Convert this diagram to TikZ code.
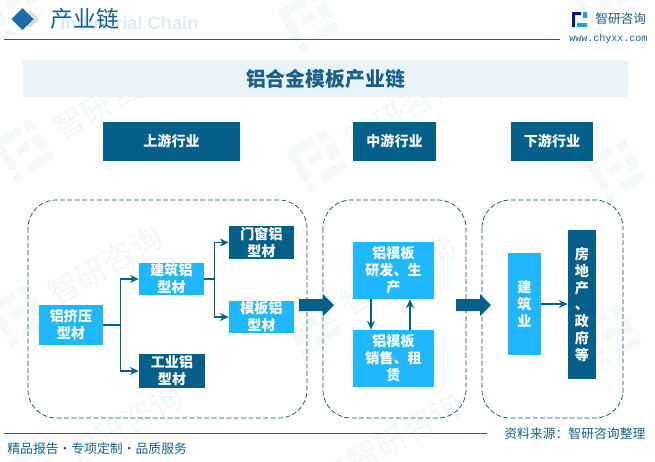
\documentclass[tikz,border=0pt]{standalone}
\usepackage{fontspec}
\setmainfont{Noto Sans CJK SC}
\setsansfont{Liberation Sans}
\setmonofont{Liberation Mono}
\usetikzlibrary{arrows.meta}
\definecolor{darkblue}{HTML}{04608A}
\definecolor{lightblue}{HTML}{1FB8FF}
\definecolor{bandblue}{HTML}{E8F3FA}
\definecolor{titleblue}{HTML}{1C5F88}
\definecolor{markblue}{HTML}{1A6EA8}
\tikzset{
    lightbox/.style={fill=lightblue,text=white,inner sep=0pt,align=center,font=\bfseries\fontsize{8}{9.6}\selectfont},
    darkbox/.style={fill=darkblue,text=white,inner sep=0pt,align=center,font=\bfseries\fontsize{8}{9.6}\selectfont},
    headbox/.style={fill=darkblue,text=white,inner sep=0pt,minimum height=0.78cm,font=\bfseries\fontsize{8}{10}\selectfont},
    groupbox/.style={draw=darkblue!80!black,dash pattern=on 2.8pt off 1.4pt,line width=0.4pt,rounded corners=0.56cm},
    link/.style={draw=darkblue,line width=0.6pt,-{Stealth[length=5pt,width=4.5pt]}},
    plainlink/.style={draw=darkblue,line width=0.6pt},
    wmtext/.style={text=titleblue,opacity=0.05,rotate=30,font=\fontsize{18}{18}\selectfont},
    wmshape/.style={fill=titleblue,opacity=0.04},
    greytext/.style={text=titleblue,font=\fontsize{7.3}{9}\selectfont}
}
\begin{document}
\begin{tikzpicture}[x=0.02cm,y=-0.02cm]
    \useasboundingbox (0,0) rectangle (655,461);

    % watermarks
    \foreach \wx/\wy [count=\wi] in {110/100,403/110,105/265,398/275,125/425,405/433}
        \node[wmtext] (wm\wi) at (\wx,\wy) {智研咨询};
    \foreach \lx/\ly in {15/5,310/20,605/5,25/150,318/160,617/170,20/315,313/325,612/335,35/475,333/490}
        \fill[wmshape,shift={(\lx,\ly)},rotate=30] (-24,-24) rectangle (6,-15) (-24,-15) rectangle (-15,12) (-8,-7) rectangle (6,2)
            (11,-24) rectangle (22,-13) (11,-8) rectangle (22,8) (-6,13) rectangle (22,22) (-24,16) rectangle (-15,24);

    % header
    \node[text=bandblue!95!titleblue,font=\sffamily\bfseries\fontsize{10.4}{12}\selectfont,anchor=west,inner sep=0pt] (subtitle) at (60,23) {Industrial Chain};
    \fill[gray!30] (30,10) -- (39,19) -- (30,28) -- (21,19) -- cycle;
    \fill[markblue] (22.5,8) -- (33.5,19) -- (22.5,30) -- (11.5,19) -- cycle;
    \node[text=titleblue,anchor=west,inner sep=0pt,font=\fontsize{13}{13}\selectfont] (pagetitle) at (50,19) {产业链};
    \draw[titleblue,line width=0.5pt] (4,39) -- (560,39);
    \fill[titleblue!50!blue!60!black] (572,12) rectangle (581,15) (572,15) rectangle (575,27);
    \fill[lightblue!70!markblue] (583,12) rectangle (587,18) (577,23) rectangle (587,27);
    \node[text=titleblue,anchor=west,inner sep=0pt,font=\fontsize{7.2}{8}\selectfont] (logoname) at (595,19) {智研咨询};
    \node[text=titleblue,anchor=west,inner sep=0pt,font=\ttfamily\fontsize{5.7}{6}\selectfont] (logourl) at (569,38.5) {www.chyxx.com};

    % title band
    \node[fill=bandblue,minimum width=12.1cm,minimum height=0.74cm,text=titleblue,inner sep=0pt,font=\bfseries\fontsize{11.3}{12}\selectfont] (band) at (325.5,78.5) {铝合金模板产业链};

    % stage headers
    \node[headbox,minimum width=2.74cm] (up) at (171.5,141.5) {上游行业};
    \node[headbox,minimum width=1.66cm] (mid) at (394.5,141.5) {中游行业};
    \node[headbox,minimum width=1.64cm] (down) at (552,141.5) {下游行业};

    % dashed groups
    \draw[groupbox] (28,200) rectangle (307,418);
    \draw[groupbox] (323,200) rectangle (466,418);
    \draw[groupbox] (482,200) rectangle (623,418);

    % upstream
    \node[lightbox,minimum width=1.28cm,minimum height=0.8cm] (extrude) at (71,325) {铝挤压\\型材};
    \node[lightbox,minimum width=1.3cm,minimum height=0.64cm] (build) at (171.5,279) {建筑铝\\型材};
    \node[darkbox,minimum width=1.32cm,minimum height=0.68cm] (indust) at (172,371) {工业铝\\型材};
    \node[darkbox,minimum width=1.3cm,minimum height=0.66cm] (door) at (261.5,242.5) {门窗铝\\型材};
    \node[lightbox,minimum width=1.3cm,minimum height=0.64cm] (form) at (261.5,317) {模板铝\\型材};

    \draw[plainlink] (extrude.east) -- ++(17,0) coordinate (ea);
    \draw[link] (ea) |- (build.west);
    \draw[link] (ea) |- (indust.west);
    \draw[plainlink] (build.east) -- ++(10,0) coordinate (eb);
    \draw[link] (eb) |- (door.west);
    \draw[link] (eb) |- (form.west);

    % midstream
    \node[lightbox,minimum width=1.62cm,minimum height=1.14cm] (make) at (393.5,270.5) {铝模板\\研发、生\\产};
    \node[lightbox,minimum width=1.62cm,minimum height=1.14cm] (sell) at (393.5,358.5) {铝模板\\销售、租\\赁};
    \draw[link] ([shift={(-22.5,0)}]make.south) -- ([shift={(-22.5,0)}]sell.north);
    \draw[link] ([shift={(16.5,0)}]sell.north) -- ([shift={(16.5,0)}]make.south);

    % downstream
    \node[lightbox,minimum width=0.66cm,minimum height=2.04cm] (constr) at (524.5,304) {建\\筑\\业};
    \node[darkbox,minimum width=0.56cm,minimum height=2.98cm] (estate) at (582,304.5) {房\\地\\产\\、\\政\\府\\等};
    \draw[link] (constr.east) -- (constr.east -| estate.west);

    % big arrows
    \coordinate (fa) at (299,305);
    \coordinate (fb) at (456,305);
    \foreach \a in {fa,fb}
        \fill[darkblue] ([shift={(0,-6)}]\a) -- ([shift={(24,-6)}]\a) -- ([shift={(24,-11)}]\a) -- ([shift={(35,0)}]\a) -- ([shift={(24,11)}]\a) -- ([shift={(24,6)}]\a) -- ([shift={(0,6)}]\a) -- cycle;

    % footer
    \draw[titleblue,line width=0.5pt] (4,433) -- (487,433);
    \node[greytext,anchor=west,inner sep=0pt] (source) at (504,434) {资料来源：智研咨询整理};
    \node[greytext,anchor=west,inner sep=0pt] (slogan) at (7,448.5) {精品报告·专项定制·品质服务};
\end{tikzpicture}
\end{document}
